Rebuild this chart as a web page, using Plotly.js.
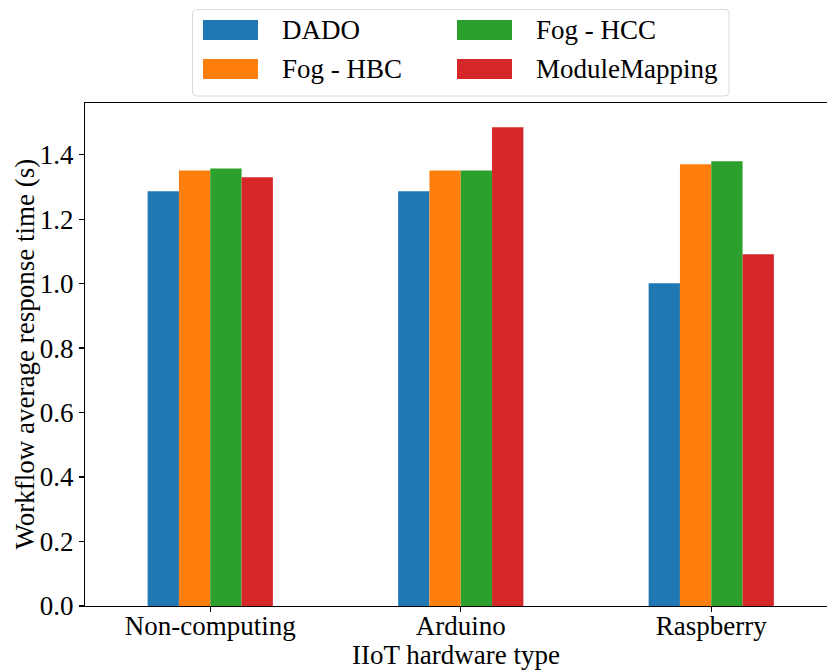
<!DOCTYPE html>
<html>
<head>
<meta charset="utf-8">
<script src="https://cdn.plot.ly/plotly-3.0.1.min.js"></script>
<style>html,body{margin:0;padding:0;background:#fff;}#chart{width:827px;height:670px;}</style>
</head>
<body>
<div id="chart"></div>
<script>
const categories = ["Non-computing", "Arduino", "Raspberry"];
const seriesNames = ["DADO", "Fog - HBC", "Fog - HCC", "ModuleMapping"];
const dado = [1.286, 1.286, 1.001];
const fogHBC = [1.351, 1.351, 1.370];
const fogHCC = [1.357, 1.351, 1.379];
const moduleMapping = [1.330, 1.485, 1.091];
const colors = ["#1f77b4", "#ff7f0e", "#2ca02c", "#d62728"];
const yTickVals = [0, 0.2, 0.4, 0.6, 0.8, 1.0, 1.2, 1.4];
const yTickText = ["0.0", "0.2", "0.4", "0.6", "0.8", "1.0", "1.2", "1.4"];
const xTitle = "IIoT hardware type";
const yTitle = "Workflow average response time (s)";

const FONT = "Liberation Serif";
const W = 827, H = 670;
const M = {l: 85, r: 0, t: 103, b: 64};
const pw = W - M.l - M.r, ph = H - M.t - M.b;
const px2x = p => (p - M.l) / pw;
const py2y = p => (H - M.b - p) / ph;

const allSeries = [dado, fogHBC, fogHCC, moduleMapping];
const traces = allSeries.map((vals, i) => ({
  type: "bar",
  name: seriesNames[i],
  x: categories.map((c, k) => k),
  y: vals,
  marker: {color: colors[i], line: {width: 0}},
  showlegend: false,
  hoverinfo: "skip"
}));

// manual legend (2 columns, column-major order as in reference)
const legendPos = [
  {rx: 203, ty: 20, tx: 280, cy: 30},   // DADO
  {rx: 203, ty: 59, tx: 280, cy: 69},   // Fog - HBC
  {rx: 457, ty: 20, tx: 534, cy: 30},   // Fog - HCC
  {rx: 457, ty: 59, tx: 534, cy: 69}    // ModuleMapping
];
const shapes = [];
const annotations = [];
(function(){
  const x0 = 192.5, x1 = 729, y0 = 9.5, y1 = 96, r = 4;
  const X = p => px2x(p), Y = p => py2y(p);
  const path = `M ${X(x0+r)},${Y(y0)} L ${X(x1-r)},${Y(y0)} Q ${X(x1)},${Y(y0)} ${X(x1)},${Y(y0+r)} L ${X(x1)},${Y(y1-r)} Q ${X(x1)},${Y(y1)} ${X(x1-r)},${Y(y1)} L ${X(x0+r)},${Y(y1)} Q ${X(x0)},${Y(y1)} ${X(x0)},${Y(y1-r)} L ${X(x0)},${Y(y0+r)} Q ${X(x0)},${Y(y0)} ${X(x0+r)},${Y(y0)} Z`;
  shapes.push({type: "path", xref: "paper", yref: "paper", path: path,
    line: {color: "#d9d9d9", width: 1}, fillcolor: "rgba(255,255,255,0.8)"});
})();
legendPos.forEach((p, i) => {
  shapes.push({type: "rect", xref: "paper", yref: "paper",
    x0: px2x(p.rx), x1: px2x(p.rx + 55), y0: py2y(p.ty + 20), y1: py2y(p.ty),
    fillcolor: colors[i], line: {width: 0}});
  annotations.push({xref: "paper", yref: "paper", x: px2x(p.tx), y: py2y(p.cy),
    xanchor: "left", yanchor: "middle", showarrow: false, text: seriesNames[i],
    font: {family: FONT, size: 27, color: "#000"}});
});
// y-axis title placed as rotated text
annotations.push({xref: "paper", yref: "paper", x: px2x(24), y: 0.5,
  xanchor: "center", yanchor: "middle", showarrow: false, textangle: -90,
  text: yTitle, font: {family: FONT, size: 27, color: "#000"}});

const layout = {
  width: W, height: H,
  margin: M,
  paper_bgcolor: "#fff", plot_bgcolor: "#fff",
  font: {family: FONT, size: 27, color: "#000"},
  barmode: "group", bargap: 0.5, bargroupgap: 0,
  showlegend: false,
  xaxis: {
    range: [-0.5, (W - M.l) / 250.5 - 0.5],
    tickvals: [0, 1, 2], ticktext: categories,
    showgrid: false, zeroline: false,
    showline: true, linecolor: "#000", linewidth: 1.1, mirror: true,
    ticks: "outside", ticklen: 5, tickwidth: 1.1, tickcolor: "#000",
    ticklabelstandoff: -10,
    tickfont: {family: FONT, size: 27, color: "#000"},
    title: {text: xTitle, font: {family: FONT, size: 27, color: "#000"}, standoff: 14}
  },
  yaxis: {
    range: [0, 1.56],
    tickvals: yTickVals, ticktext: yTickText,
    showgrid: false, zeroline: false,
    showline: true, linecolor: "#000", linewidth: 1.1,
    ticks: "outside", ticklen: 5, tickwidth: 1.1, tickcolor: "#000",
    tickfont: {family: FONT, size: 27, color: "#000"}
  },
  shapes: shapes,
  annotations: annotations
};

Plotly.newPlot("chart", traces, layout, {displayModeBar: false, staticPlot: true});
</script>
</body>
</html>
